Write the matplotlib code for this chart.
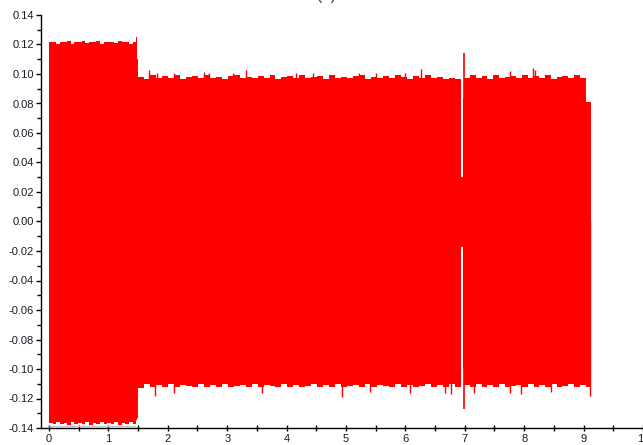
import numpy as np
import matplotlib
matplotlib.use("Agg")
import matplotlib.pyplot as plt
from matplotlib.ticker import MultipleLocator, FormatStrFormatter

plt.rcParams['font.family'] = ['Liberation Sans', 'DejaVu Sans']
plt.rcParams['axes.unicode_minus'] = False

# ---------------- data (envelope of the oscillating signal) ----------------
# segment A: 0 - 1.49 s
seg_a = (0.0, 1.47)
upper_a = [0.1215, 0.122, 0.1205, 0.122, 0.1215, 0.1222, 0.1205, 0.122, 0.1215, 0.1222,
           0.121, 0.122, 0.1215, 0.1222, 0.1205, 0.122, 0.1215, 0.122, 0.121, 0.1222,
           0.1215, 0.122, 0.1205, 0.122]
lower_a = [-0.1365, -0.1376, -0.136, -0.1375, -0.1365, -0.1377, -0.136, -0.1375, -0.1365, -0.1376,
           -0.136, -0.1377, -0.1365, -0.1375, -0.136, -0.1376, -0.1365, -0.1375, -0.136, -0.1377,
           -0.1365, -0.1375, -0.136, -0.1376]
# transition column
seg_t = (1.47, 1.50)
upper_t = [0.125, 0.110]
lower_t = [-0.1345, -0.1335]

# segment B: 1.50 - 6.93 s
seg_b = (1.50, 6.93)
upper_b = [0.098, 0.0965, 0.099, 0.097, 0.0985, 0.0975, 0.099, 0.0965, 0.098, 0.0985,
           0.097, 0.099, 0.0975, 0.098, 0.0965, 0.0985, 0.099, 0.097, 0.098, 0.0975,
           0.0985, 0.097, 0.099, 0.0965, 0.098, 0.0985, 0.0975, 0.099, 0.097, 0.098,
           0.0985, 0.0965, 0.099, 0.0975, 0.098, 0.097, 0.0985, 0.099, 0.0965, 0.098,
           0.0975, 0.0985, 0.097, 0.099, 0.098, 0.0965, 0.0985, 0.0975, 0.099, 0.097,
           0.098, 0.0965, 0.0975, 0.0965]
lower_b = [-0.113, -0.1105, -0.112, -0.111, -0.1125, -0.1105, -0.112, -0.111, -0.1115, -0.1125,
           -0.1105, -0.112, -0.111, -0.1125, -0.1105, -0.112, -0.1115, -0.111, -0.1125, -0.1105,
           -0.112, -0.111, -0.1115, -0.1125, -0.1105, -0.112, -0.111, -0.1125, -0.1115, -0.1105,
           -0.112, -0.111, -0.1125, -0.1105, -0.112, -0.1115, -0.111, -0.1125, -0.1105, -0.112,
           -0.111, -0.1115, -0.1125, -0.1105, -0.112, -0.111, -0.1125, -0.1115, -0.1105, -0.112,
           -0.111, -0.1125, -0.1105, -0.112]

# gap around 6.95 s
gap_band = (6.935, 6.975)
gap_upper = 0.030
gap_lower = -0.017
gap_edge = (6.975, 6.99)
gap_edge_upper = 0.084
gap_edge_lower = -0.100
big_spike_t = 6.985
big_spike_hi = 0.114
big_spike_lo = -0.127

# segment C: 6.99 - 9.13 s
seg_c = (6.99, 9.13)
upper_c = [0.0975, 0.099, 0.097, 0.0985, 0.0965, 0.099, 0.0975, 0.098, 0.0985, 0.097,
           0.099, 0.0975, 0.0985, 0.097, 0.099, 0.0965, 0.098, 0.0985, 0.0975, 0.099,
           0.0975, 0.081]
lower_c = [-0.111, -0.1125, -0.1105, -0.112, -0.111, -0.1125, -0.1105, -0.112, -0.1115, -0.111,
           -0.1125, -0.1105, -0.112, -0.111, -0.1125, -0.1105, -0.112, -0.1115, -0.1105, -0.112,
           -0.111, -0.1125]

# isolated peaks on the envelope
up_spike_t = [1.69, 1.82, 2.10, 2.61, 2.69, 3.10, 3.32, 4.16, 4.45, 5.22, 5.50, 6.00, 6.26, 7.76, 8.15, 8.18]
up_spike_v = [0.1025, 0.101, 0.101, 0.1015, 0.101, 0.101, 0.1025, 0.101, 0.101, 0.101, 0.101, 0.101,
              0.1035, 0.102, 0.104, 0.103]
dn_spike_t = [1.78, 2.10, 3.59, 4.93, 5.40, 6.08, 6.67, 6.77, 7.15, 7.76, 7.95, 8.45, 9.11]
dn_spike_v = [-0.118, -0.116, -0.116, -0.119, -0.1155, -0.116, -0.116, -0.117, -0.1165, -0.116,
              -0.117, -0.1155, -0.118]

x_ticks = list(range(0, 11))
y_ticks = [-0.14, -0.12, -0.10, -0.08, -0.06, -0.04, -0.02, 0.00, 0.02, 0.04, 0.06, 0.08, 0.10, 0.12, 0.14]
title = "(a)"

# ---------------- figure ----------------
W, H = 643, 445
fig = plt.figure(figsize=(W / 100, H / 100), dpi=100)
ax_left, ax_right, ax_bot, ax_top = 41, 662, 428, 15
ax = fig.add_axes([ax_left / W, 1 - ax_bot / H, (ax_right - ax_left) / W, (ax_bot - ax_top) / H])

RED = '#ff0000'


def fill_seg(seg, up, lo):
    edges = np.linspace(seg[0], seg[1], len(up) + 1)
    ax.fill_between(edges, list(up) + [up[-1]], list(lo) + [lo[-1]], step='post',
                    color=RED, linewidth=0, antialiased=False)


fill_seg(seg_a, upper_a, lower_a)
fill_seg(seg_t, upper_t, lower_t)
fill_seg(seg_b, upper_b, lower_b)
fill_seg(seg_c, upper_c, lower_c)
ax.fill_between(gap_band, [gap_upper] * 2, [gap_lower] * 2, color=RED, linewidth=0)
ax.fill_between(gap_edge, [gap_edge_upper] * 2, [gap_edge_lower] * 2, color=RED, linewidth=0)
ax.vlines([big_spike_t], [big_spike_lo], [big_spike_hi], color=RED, lw=1.2)
ax.vlines(up_spike_t, 0, up_spike_v, color=RED, lw=1.0)
ax.vlines(dn_spike_t, dn_spike_v, 0, color=RED, lw=1.0)
ax.hlines(-0.1388, seg_a[0], seg_t[0], color='#c8c8c8', lw=1.0)

ax.set_xlim((ax_left - 49) / 59.4, (ax_right - 49) / 59.4)
ax.set_ylim(-0.14, 0.14)

for s in ['top', 'right']:
    ax.spines[s].set_visible(False)
for s in ['left', 'bottom']:
    ax.spines[s].set_linewidth(1.0)
    ax.spines[s].set_color('black')

ax.set_xticks(x_ticks)
ax.xaxis.set_minor_locator(MultipleLocator(0.5))
ax.set_yticks(y_ticks)
ax.yaxis.set_minor_locator(MultipleLocator(0.01))
ax.yaxis.set_major_formatter(FormatStrFormatter('%.2f'))

ax.tick_params(axis='x', which='both', direction='inout', length=5, width=1, labelsize=8,
               labelcolor='#1a1a2a', pad=2)
ax.tick_params(axis='y', which='major', direction='out', length=3.5, width=1, labelsize=8,
               labelcolor='#1a1a2a', pad=1.5)
ax.tick_params(axis='y', which='minor', direction='out', length=3, width=1)

fig.text(326 / W, 1 + 4 / H, title, ha='center', va='center', fontsize=11, color='#333333')

fig.savefig('out.png', dpi=100)
